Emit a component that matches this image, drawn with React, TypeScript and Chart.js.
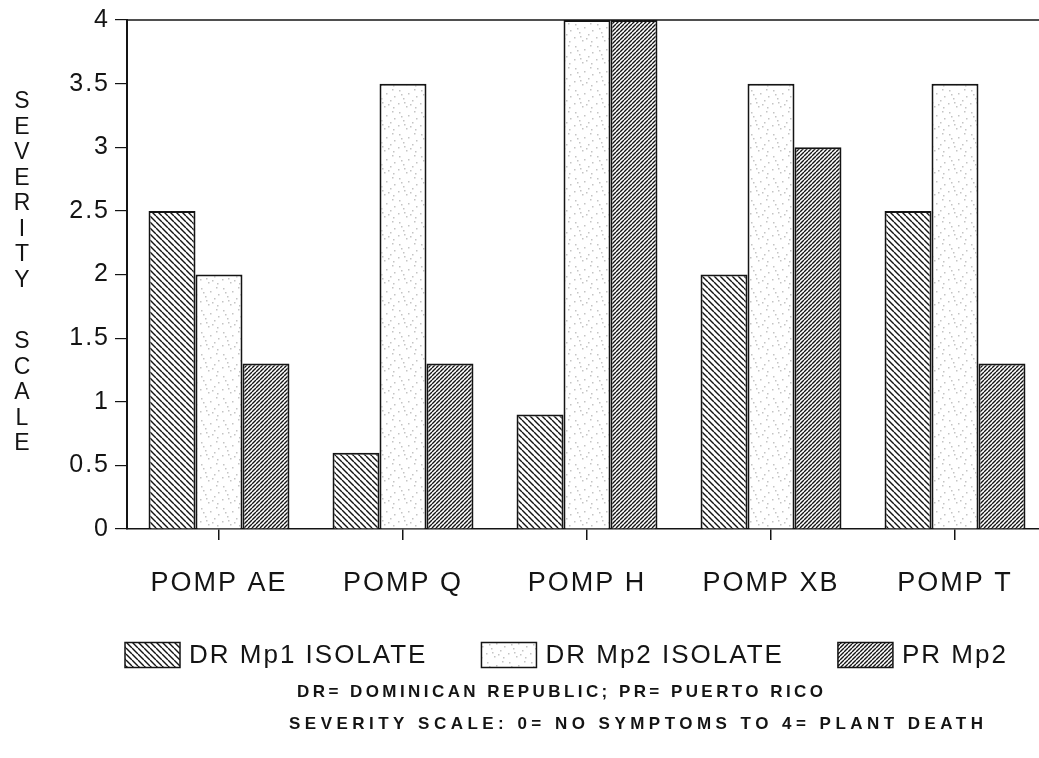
import React, { useEffect, useRef } from 'react';
import { Chart, registerables } from 'chart.js';

Chart.register(...registerables);

const categories = ['POMP AE', 'POMP Q', 'POMP H', 'POMP XB', 'POMP T'];
const seriesNames = ['DR Mp1 ISOLATE', 'DR Mp2 ISOLATE', 'PR Mp2'];
const drMp1Values = [2.5, 0.6, 0.9, 2.0, 2.5];
const drMp2Values = [2.0, 3.5, 4.0, 3.5, 3.5];
const prMp2Values = [1.3, 1.3, 4.0, 3.0, 1.3];
const yTickValues = [0, 0.5, 1, 1.5, 2, 2.5, 3, 3.5, 4];
const yAxisTitleWords = ['SEVERITY', 'SCALE'];
const footnoteLines = [
  'DR= DOMINICAN REPUBLIC; PR= PUERTO RICO',
  'SEVERITY SCALE: 0= NO SYMPTOMS TO 4= PLANT DEATH',
];

const INK = '#141414';
const FONT = '"Liberation Sans", Arial, Helvetica, sans-serif';
const W = 1048;
const H = 758;

function makeHatch(period: number, lw: number, dir: 'back' | 'fwd') {
  const c = document.createElement('canvas');
  c.width = period;
  c.height = period;
  const g = c.getContext('2d')!;
  g.fillStyle = '#ffffff';
  g.fillRect(0, 0, period, period);
  g.strokeStyle = INK;
  g.lineWidth = lw;
  g.beginPath();
  for (let k = -1; k <= 1; k++) {
    if (dir === 'back') {
      g.moveTo(k * period, 0);
      g.lineTo(k * period + period, period);
    } else {
      g.moveTo(k * period, period);
      g.lineTo(k * period + period, 0);
    }
  }
  g.stroke();
  return g.createPattern(c, 'repeat')!;
}

function makeStipple() {
  const c = document.createElement('canvas');
  c.width = 22;
  c.height = 22;
  const g = c.getContext('2d')!;
  g.fillStyle = '#ffffff';
  g.fillRect(0, 0, 22, 22);
  g.fillStyle = '#c4c4c4';
  const dots = [
    [3, 2], [12, 5], [18, 1], [7, 10], [16, 12], [2, 15], [10, 18], [19, 19], [5, 6], [14, 16], [8, 14], [20, 8],
  ];
  for (const [x, y] of dots) g.fillRect(x, y, 1.5, 1.5);
  return g.createPattern(c, 'repeat')!;
}

export default function App() {
  const ref = useRef<HTMLCanvasElement | null>(null);

  useEffect(() => {
    const canvas = ref.current;
    if (!canvas) return;
    const fills = [makeHatch(6, 1.4, 'back'), makeStipple(), makeHatch(4, 1.4, 'fwd')];
    const seriesValues = [drMp1Values, drMp2Values, prMp2Values];

    const decorPlugin = {
      id: 'decor',
      beforeDraw(chart: any) {
        chart.ctx.letterSpacing = '2px';
      },
      afterDraw(chart: any) {
        const ctx = chart.ctx as CanvasRenderingContext2D;
        const area = chart.chartArea;
        ctx.save();
        // top frame line
        ctx.strokeStyle = INK;
        ctx.lineWidth = 1.5;
        ctx.beginPath();
        ctx.moveTo(area.left, area.top);
        ctx.lineTo(chart.width, area.top);
        ctx.stroke();

        // vertical stacked y title
        ctx.fillStyle = INK;
        ctx.font = `23px ${FONT}`;
        (ctx as any).letterSpacing = '0px';
        ctx.textAlign = 'center';
        ctx.textBaseline = 'middle';
        const starts = [102, 342];
        const step = 25.5;
        yAxisTitleWords.forEach((word, wi) => {
          for (let i = 0; i < word.length; i++) {
            ctx.fillText(word[i], 22, starts[wi] + i * step);
          }
        });

        // legend
        ctx.font = `26px ${FONT}`;
        (ctx as any).letterSpacing = '2px';
        ctx.textAlign = 'left';
        ctx.textBaseline = 'middle';
        let x = 125;
        const boxW = 55;
        const boxH = 25;
        const cy = 655;
        seriesNames.forEach((name, i) => {
          ctx.fillStyle = fills[i];
          ctx.fillRect(x, cy - boxH / 2, boxW, boxH);
          ctx.strokeStyle = INK;
          ctx.lineWidth = 1.5;
          ctx.strokeRect(x, cy - boxH / 2, boxW, boxH);
          ctx.fillStyle = INK;
          const tx = x + boxW + 9;
          ctx.fillText(name, tx, cy + 1);
          x = tx + ctx.measureText(name).width + 54;
        });

        // footnotes
        ctx.font = `bold 17px ${FONT}`;
        const fx = [297, 289];
        const fy = [692, 724];
        const fw = [526, 694];
        footnoteLines.forEach((line, i) => {
          (ctx as any).letterSpacing = '0px';
          const base = ctx.measureText(line).width;
          const ls = (fw[i] - base) / (line.length - 1);
          (ctx as any).letterSpacing = `${ls}px`;
          ctx.fillText(line, fx[i], fy[i]);
        });
        ctx.restore();
      },
    };

    const chart = new Chart(canvas, {
      type: 'bar',
      data: {
        labels: categories,
        datasets: seriesNames.map((name, i) => ({
          label: name,
          data: seriesValues[i],
          backgroundColor: fills[i],
          borderColor: INK,
          borderWidth: 2,
          borderSkipped: 'bottom',
          barPercentage: 1,
          categoryPercentage: 0.766,
        })),
      },
      options: {
        responsive: false,
        animation: false,
        events: [],
        layout: { padding: { top: 14, left: 0, right: 1, bottom: 0 } },
        plugins: {
          legend: { display: false },
          tooltip: { enabled: false },
          title: { display: false },
        },
        scales: {
          x: {
            type: 'category',
            offset: true,
            grid: {
              display: true,
              drawOnChartArea: false,
              drawTicks: true,
              tickLength: 11,
              color: INK,
              lineWidth: 1.5,
              offset: false,
            },
            border: { display: true, color: INK, width: 1.5 },
            ticks: {
              color: INK,
              font: { family: FONT, size: 27 },
              padding: 27,
              maxRotation: 0,
              autoSkip: false,
            },
            afterFit: (scale: any) => {
              scale.height = 229;
            },
          },
          y: {
            min: yTickValues[0],
            max: yTickValues[yTickValues.length - 1],
            afterBuildTicks: (scale: any) => {
              scale.ticks = yTickValues.map((v) => ({ value: v }));
            },
            grid: {
              display: true,
              drawOnChartArea: false,
              drawTicks: true,
              tickLength: 12,
              color: INK,
              lineWidth: 1.2,
            },
            border: { display: true, color: INK, width: 2 },
            ticks: {
              color: INK,
              font: { family: FONT, size: 25 },
              padding: 5,
              callback: (v: any) => String(v),
            },
            afterFit: (scale: any) => {
              scale.width = 127;
            },
          },
        },
      },
      plugins: [decorPlugin],
    });

    return () => chart.destroy();
  }, []);

  return (
    <div
      style={{
        position: 'absolute',
        left: 0,
        top: 0,
        width: 1039,
        height: 758,
        overflow: 'hidden',
        background: '#ffffff',
      }}
    >
      <canvas ref={ref} width={W} height={H} style={{ display: 'block', width: W, height: H }} />
    </div>
  );
}
